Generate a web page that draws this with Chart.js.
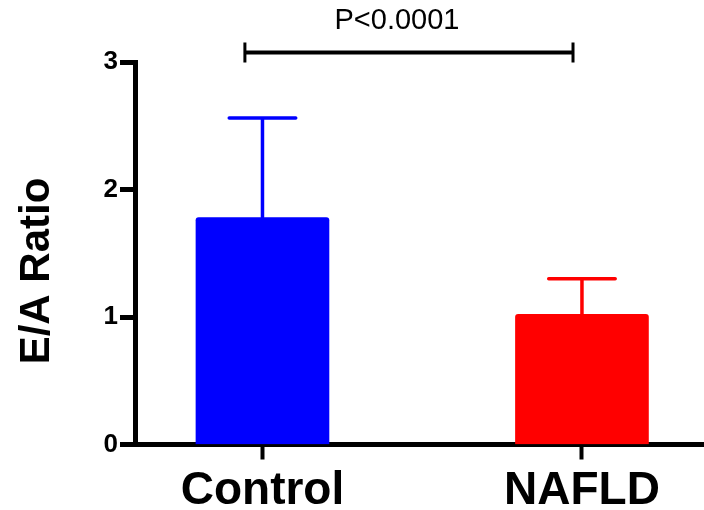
<!DOCTYPE html>
<html>
<head>
<meta charset="utf-8">
<script src="https://cdn.jsdelivr.net/npm/chart.js@4"></script>
<style>
  body { margin: 0; background: #fff; }
  #wrap { width: 704px; height: 510px; }
</style>
</head>
<body>
<div id="wrap"><canvas id="chart"></canvas></div>
<script>
// Data
const groups = ['Control', 'NAFLD'];
const groupPos = [1, 2];
const means = [1.78, 1.02];
const errors = [0.78, 0.28];
const barColors = ['#0000ff', '#ff0000'];
const yTicks = [0, 1, 2, 3];
const yTitle = 'E/A Ratio';
const sigLabel = 'P<0.0001';
const sigFrom = 0.945;
const sigTo = 1.972;
const sigLevel = 3.075;

const FONT = "'Liberation Sans', Arial, sans-serif";

// Error bars, significance bracket and y title
const extras = {
    id: 'extras',
    afterDatasetsDraw(chart) {
        const ctx = chart.ctx;
        const y = chart.scales.y;
        const meta = chart.getDatasetMeta(0);

        ctx.save();
        ctx.lineCap = 'round';
        meta.data.forEach((bar, i) => {
            const cx = bar.x;
            const top = y.getPixelForValue(means[i] + errors[i]);
            const half = bar.width / 4;
            ctx.strokeStyle = barColors[i];
            ctx.lineWidth = 3.5;
            ctx.beginPath();
            ctx.moveTo(cx, bar.y);
            ctx.lineTo(cx, top);
            ctx.moveTo(cx - half, top);
            ctx.lineTo(cx + half, top);
            ctx.stroke();
        });
        ctx.restore();
    },
    afterDraw(chart) {
        const ctx = chart.ctx;
        const x = chart.scales.x;
        const y = chart.scales.y;

        // bracket
        const x1 = x.getPixelForValue(sigFrom);
        const x2 = x.getPixelForValue(sigTo);
        const by = y.getPixelForValue(sigLevel);
        ctx.save();
        ctx.strokeStyle = '#000';
        ctx.lineWidth = 4;
        ctx.beginPath();
        ctx.moveTo(x1, by);
        ctx.lineTo(x2, by);
        ctx.stroke();
        ctx.lineWidth = 3;
        ctx.beginPath();
        ctx.moveTo(x1, by - 10);
        ctx.lineTo(x1, by + 10);
        ctx.moveTo(x2, by - 10);
        ctx.lineTo(x2, by + 10);
        ctx.stroke();

        ctx.fillStyle = '#000';
        ctx.font = '29px ' + FONT;
        ctx.textAlign = 'center';
        ctx.textBaseline = 'middle';
        ctx.fillText(sigLabel, (x1 + x2) / 2 - 12, by - 31);

        // y axis title
        ctx.translate(37, 271);
        ctx.rotate(-Math.PI / 2);
        ctx.font = 'bold 42px ' + FONT;
        ctx.fillText(yTitle, 0, 0);
        ctx.restore();
    }
};

new Chart(document.getElementById('chart'), {
    type: 'bar',
    data: {
        datasets: [{
            data: groupPos.map((p, i) => ({ x: p, y: means[i] })),
            backgroundColor: barColors,
            borderWidth: 0,
            borderRadius: 3,
            barThickness: 133
        }]
    },
    options: {
        responsive: true,
        maintainAspectRatio: false,
        animation: false,
        layout: { padding: { top: 62, right: 0, bottom: 0, left: 0 } },
        plugins: {
            legend: { display: false },
            tooltip: { enabled: false }
        },
        scales: {
            x: {
                type: 'linear',
                min: 0.601,
                max: 2.382,
                offset: false,
                afterBuildTicks: scale => {
                    scale.ticks = groupPos.map(v => ({ value: v }));
                },
                afterFit: scale => { scale.height = 65.5; },
                ticks: {
                    callback: v => groups[groupPos.indexOf(v)],
                    color: '#000',
                    font: { family: FONT, size: 46, weight: 'bold' },
                    padding: 4,
                    maxRotation: 0,
                    autoSkip: false
                },
                grid: {
                    offset: false,
                    drawOnChartArea: false,
                    tickLength: 15,
                    tickWidth: 4,
                    tickColor: '#000'
                },
                border: { display: true, color: '#000', width: 5 }
            },
            y: {
                min: 0,
                max: 3,
                afterBuildTicks: scale => {
                    scale.ticks = yTicks.map(v => ({ value: v }));
                },
                afterFit: scale => { scale.width = 135; },
                ticks: {
                    color: '#000',
                    font: { family: FONT, size: 26, weight: 'bold' },
                    padding: 2
                },
                grid: {
                    drawOnChartArea: false,
                    tickLength: 15,
                    tickWidth: 5,
                    tickColor: '#000'
                },
                border: { display: true, color: '#000', width: 5 }
            }
        }
    },
    plugins: [extras]
});
</script>
</body>
</html>
